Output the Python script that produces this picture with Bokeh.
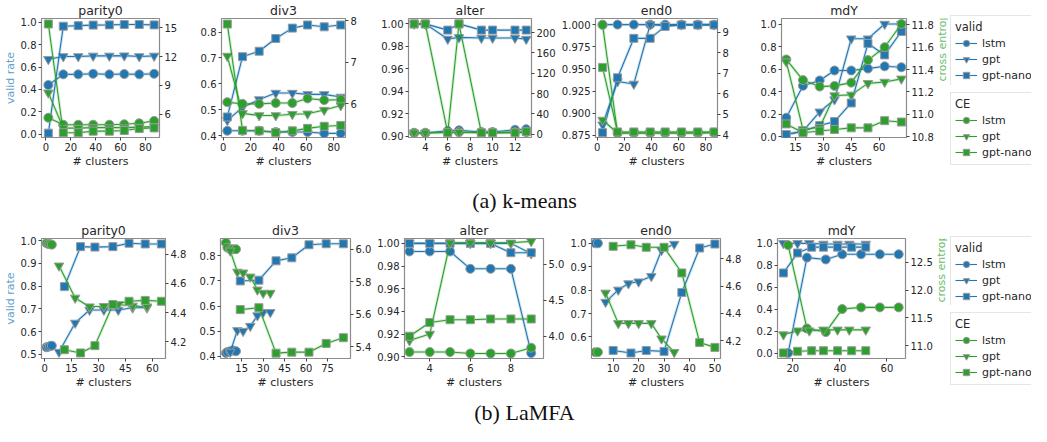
import math
from bokeh.plotting import figure
from bokeh.models import (Range1d, LinearAxis, FixedTicker, PrintfTickFormatter,
                          Legend, LegendItem, Label)
from bokeh.layouts import row, column
from bokeh.embed import file_html
from bokeh.resources import INLINE

# ---------------- data ----------------
MODELS = ["lstm", "gpt", "gpt-nano"]
TITLES = ["parity0", "div3", "alter", "end0", "mdY"]
CAPTIONS = ["(a) k-means", "(b) LaMFA"]
LEGEND_TITLES = ["valid", "CE"]
AXIS_LABELS = ["# clusters", "valid rate", "cross entropy"]

# (a) k-means
km_parity0_x = [2, 14, 26, 38, 51, 63, 75, 87]
km_parity0_valid_lstm = [0.44, 0.535, 0.535, 0.54, 0.535, 0.538, 0.535, 0.54]
km_parity0_valid_gpt = [0.67, 0.695, 0.695, 0.70, 0.70, 0.702, 0.695, 0.70]
km_parity0_valid_nano = [0.01, 0.965, 0.97, 0.975, 0.977, 0.98, 0.98, 0.977]
km_parity0_ce_lstm = [5.63, 4.9, 4.9, 4.9, 4.9, 4.95, 5.05, 5.3]
km_parity0_ce_gpt = [8.23, 4.55, 4.55, 4.6, 4.6, 4.6, 4.65, 4.7]
km_parity0_ce_nano = [15.4, 4.07, 4.07, 4.23, 4.23, 4.3, 4.5, 4.57]

km_div3_x = [3, 14, 26, 38, 50, 61, 73, 85]
km_div3_valid_lstm = [0.42, 0.42, 0.42, 0.415, 0.415, 0.415, 0.41, 0.41]
km_div3_valid_gpt = [0.46, 0.51, 0.54, 0.565, 0.565, 0.56, 0.56, 0.55]
km_div3_valid_nano = [0.473, 0.705, 0.726, 0.775, 0.815, 0.827, 0.82, 0.827]
km_div3_ce_lstm = [6.04, 6.0, 6.0, 6.02, 6.02, 6.13, 6.09, 6.1]
km_div3_ce_gpt = [7.15, 5.77, 5.72, 5.72, 5.75, 5.76, 5.85, 5.96]
km_div3_ce_nano = [7.92, 5.36, 5.35, 5.31, 5.35, 5.41, 5.46, 5.48]

km_alter_x = [3, 4, 6, 7, 9, 10, 12, 13]
km_alter_valid_lstm = [0.903, 0.903, 0.905, 0.9055, 0.904, 0.904, 0.906, 0.9065]
km_alter_valid_gpt = [1.0, 1.0, 0.9866, 0.988, 0.9875, 0.9875, 0.9875, 0.9865]
km_alter_valid_nano = [1.0, 1.0, 0.9945, 1.0, 0.9945, 0.9945, 0.9945, 0.9945]
km_alter_ce_lstm = [3.1, 3.1, 3.5, 4.0, 3.5, 3.5, 4.0, 4.5]
km_alter_ce_gpt = [3.0, 3.0, 3.5, 4.0, 3.2, 3.2, 3.5, 4.0]
km_alter_ce_nano = [217, 217, 3, 217, 3, 3, 3, 5]

km_end0_x = [4, 15, 27, 39, 50, 62, 74, 86]
km_end0_valid_lstm = [1.0, 1.0, 1.0, 1.0, 1.0, 1.0, 1.0, 1.0]
km_end0_valid_gpt = [0.887, 0.9357, 0.933, 1.0, 0.999, 1.0, 1.0, 1.0]
km_end0_valid_nano = [0.878, 0.940, 0.9845, 0.9845, 0.998, 0.9996, 0.9996, 0.9996]
km_end0_ce_lstm = [9.36, 4.1, 4.1, 4.1, 4.1, 4.1, 4.1, 4.12]
km_end0_ce_gpt = [4.73, 4.1, 4.1, 4.1, 4.1, 4.1, 4.1, 4.12]
km_end0_ce_nano = [7.29, 4.15, 4.15, 4.15, 4.15, 4.15, 4.15, 4.15]

km_mdY_x = [10, 19, 28, 36, 45, 54, 63, 72]
km_mdY_valid_lstm = [0.17, 0.452, 0.50, 0.588, 0.588, 0.605, 0.625, 0.617]
km_mdY_valid_gpt = [0.02, 0.05, 0.222, 0.33, 0.87, 0.87, 1.0, 1.0]
km_mdY_valid_nano = [0.02, 0.05, 0.10, 0.135, 0.30, 0.827, 0.726, 0.934]
km_mdY_ce_lstm = [11.49, 11.306, 11.248, 11.254, 11.283, 11.484, 11.599, 11.806]
km_mdY_ce_gpt = [11.47, 10.866, 10.886, 11.168, 11.174, 11.277, 11.289, 11.317]
km_mdY_ce_nano = [10.915, 10.837, 10.852, 10.866, 10.88, 10.88, 10.944, 10.932]

# (b) LaMFA
lm_parity0_x_lstm = [1, 2, 3, 4]
lm_parity0_x_gpt = [8, 17, 25, 33, 41, 49, 57]
lm_parity0_x_nano = [11, 20, 28, 38, 47, 56, 65]
lm_parity0_valid_lstm = [0.531, 0.533, 0.536, 0.538]
lm_parity0_valid_gpt = [0.51, 0.638, 0.695, 0.695, 0.695, 0.705, 0.705]
lm_parity0_valid_nano = [0.798, 0.974, 0.972, 0.974, 0.989, 0.986, 0.986]
lm_parity0_ce_lstm = [4.875, 4.87, 4.868, 4.865]
lm_parity0_ce_gpt = [4.72, 4.50, 4.44, 4.443, 4.455, 4.445, 4.44]
lm_parity0_ce_nano = [4.145, 4.123, 4.173, 4.455, 4.477, 4.483, 4.477]

lm_div3_x_lstm = [4, 5, 7, 9, 11]
lm_div3_x_gpt = [7, 12, 16, 21, 26, 30, 35]
lm_div3_x_nano = [14, 27, 39, 50, 62, 74, 86]
lm_div3_valid_lstm = [0.413, 0.417, 0.42, 0.423, 0.42]
lm_div3_valid_gpt = [0.417, 0.503, 0.50, 0.52, 0.562, 0.575, 0.575]
lm_div3_valid_nano = [0.70, 0.703, 0.78, 0.792, 0.844, 0.848, 0.848]
lm_div3_ce_lstm = [6.04, 6.01, 6.0, 6.0, 6.0]
lm_div3_ce_gpt = [5.99, 5.86, 5.855, 5.83, 5.75, 5.73, 5.73]
lm_div3_ce_nano = [5.628, 5.64, 5.36, 5.366, 5.366, 5.42, 5.455]

lm_alter_x = [3, 4, 5, 6, 7, 8, 9]
lm_alter_valid_lstm = [0.9929, 0.9929, 0.9929, 0.9776, 0.9776, 0.9776, 0.9034]
lm_alter_valid_gpt = [1.0, 1.0, 1.0, 1.0, 1.0, 1.0, 0.991]
lm_alter_valid_nano = [1.0, 1.0, 1.0, 1.0, 1.0, 0.9918, 0.9918]
lm_alter_ce_lstm = [3.78, 3.78, 3.78, 3.76, 3.76, 3.76, 3.84]
lm_alter_ce_gpt = [3.94, 4.03, 5.3, 5.3, 5.3, 5.3, 5.32]
lm_alter_ce_nano = [4.0, 4.19, 4.23, 4.23, 4.24, 4.24, 4.24]

lm_end0_x_lstm = [3, 4]
lm_end0_x_gpt = [7, 12, 16, 20, 25, 29, 34]
lm_end0_x_nano = [10, 17, 23, 30, 37, 44, 50]
lm_end0_valid_lstm = [1.0, 1.0]
lm_end0_valid_gpt = [0.749, 0.801, 0.828, 0.836, 0.859, 0.97, 0.997]
lm_end0_valid_nano = [0.542, 0.531, 0.542, 0.538, 0.79, 0.98, 0.997]
lm_end0_ce_lstm = [4.118, 4.118]
lm_end0_ce_gpt = [4.55, 4.328, 4.328, 4.328, 4.328, 4.216, 4.118]
lm_end0_ce_nano = [4.889, 4.9, 4.882, 4.882, 4.695, 4.188, 4.153]

lm_mdY_x_lstm = [18, 26, 34, 41, 49, 57, 65]
lm_mdY_x_gpt = [16, 22, 27, 33, 39, 44, 51]
lm_mdY_x_nano = [16, 22, 28, 33, 39, 45, 51]
lm_mdY_valid_lstm = [0.0, 0.87, 0.853, 0.9, 0.9, 0.9, 0.9]
lm_mdY_valid_gpt = [1.0, 1.0, 1.0, 0.994, 0.994, 0.994, 0.994]
lm_mdY_valid_nano = [0.73, 0.912, 0.965, 0.965, 0.965, 0.965, 0.965]
lm_mdY_ce_lstm = [12.81, 11.31, 11.246, 11.66, 11.69, 11.69, 11.69]
lm_mdY_ce_gpt = [11.2, 11.27, 11.27, 11.286, 11.286, 11.286, 11.286]
lm_mdY_ce_nano = [10.87, 10.9, 10.91, 10.91, 10.91, 10.91, 10.91]

# axis limits and ticks
km_xlims = [(-3.5, 91.3), (-1.2, 88.4), (2.5, 13.47), (-1.2, 88.5), (7.44, 74.76)]
km_ylims = [(-0.029, 1.034), (0.394, 0.852), (0.8991, 1.0048), (0.8725, 1.0069), (-0.006, 1.049)]
km_y2lims = [(3.57, 15.97), (5.19, 8.054), (-6.3, 227.7), (3.88, 9.67), (10.794, 11.855)]
km_xticks = [[0, 20, 40, 60, 80], [0, 20, 40, 60, 80], [4, 6, 8, 10, 12], [0, 20, 40, 60, 80], [15, 30, 45, 60]]
km_yticks = [[0.0, 0.2, 0.4, 0.6, 0.8, 1.0], [0.4, 0.5, 0.6, 0.7, 0.8],
             [0.90, 0.92, 0.94, 0.96, 0.98, 1.00], [0.875, 0.9, 0.925, 0.95, 0.975, 1.0],
             [0.0, 0.2, 0.4, 0.6, 0.8, 1.0]]
km_y2ticks = [[6, 9, 12, 15], [6, 7, 8], [0, 40, 80, 120, 160, 200], [4, 5, 6, 7, 8, 9],
              [10.8, 11.0, 11.2, 11.4, 11.6, 11.8]]
km_yfmt = ["%.1f", "%.1f", "%.2f", "%.3f", "%.1f"]
km_y2fmt = ["%d", "%d", "%d", "%d", "%.1f"]

lm_xlims = [(-1.75, 67.3), (0.2, 91.0), (2.754, 9.607), (1.48, 52.2), (13.47, 67.9)]
lm_ylims = [(0.4815, 1.0099), (0.391, 0.869), (0.8986, 1.0043), (0.5076, 1.0207), (-0.05, 1.044)]
lm_y2lims = [(4.085, 4.907), (5.327, 6.066), (3.69, 5.36), (4.072, 4.946), (10.77, 12.93)]
lm_xticks = [[0, 15, 30, 45, 60], [0, 15, 30, 45, 60, 75], [4, 6, 8], [10, 20, 30, 40, 50], [20, 40, 60]]
lm_yticks = [[0.5, 0.6, 0.7, 0.8, 0.9, 1.0], [0.4, 0.5, 0.6, 0.7, 0.8],
             [0.90, 0.92, 0.94, 0.96, 0.98, 1.00], [0.6, 0.7, 0.8, 0.9, 1.0],
             [0.0, 0.2, 0.4, 0.6, 0.8, 1.0]]
lm_y2ticks = [[4.2, 4.4, 4.6, 4.8], [5.4, 5.6, 5.8, 6.0], [4.0, 4.5, 5.0], [4.2, 4.4, 4.6, 4.8],
              [11.0, 11.5, 12.0, 12.5]]
lm_yfmt = ["%.1f", "%.1f", "%.2f", "%.1f", "%.1f"]
lm_y2fmt = ["%.1f", "%.1f", "%.1f", "%.1f", "%.1f"]

# ---------------- assemble ----------------
km_series = [
    [(km_parity0_x, km_parity0_valid_lstm, km_parity0_ce_lstm),
     (km_parity0_x, km_parity0_valid_gpt, km_parity0_ce_gpt),
     (km_parity0_x, km_parity0_valid_nano, km_parity0_ce_nano)],
    [(km_div3_x, km_div3_valid_lstm, km_div3_ce_lstm),
     (km_div3_x, km_div3_valid_gpt, km_div3_ce_gpt),
     (km_div3_x, km_div3_valid_nano, km_div3_ce_nano)],
    [(km_alter_x, km_alter_valid_lstm, km_alter_ce_lstm),
     (km_alter_x, km_alter_valid_gpt, km_alter_ce_gpt),
     (km_alter_x, km_alter_valid_nano, km_alter_ce_nano)],
    [(km_end0_x, km_end0_valid_lstm, km_end0_ce_lstm),
     (km_end0_x, km_end0_valid_gpt, km_end0_ce_gpt),
     (km_end0_x, km_end0_valid_nano, km_end0_ce_nano)],
    [(km_mdY_x, km_mdY_valid_lstm, km_mdY_ce_lstm),
     (km_mdY_x, km_mdY_valid_gpt, km_mdY_ce_gpt),
     (km_mdY_x, km_mdY_valid_nano, km_mdY_ce_nano)],
]
lm_series = [
    [(lm_parity0_x_lstm, lm_parity0_valid_lstm, lm_parity0_ce_lstm),
     (lm_parity0_x_gpt, lm_parity0_valid_gpt, lm_parity0_ce_gpt),
     (lm_parity0_x_nano, lm_parity0_valid_nano, lm_parity0_ce_nano)],
    [(lm_div3_x_lstm, lm_div3_valid_lstm, lm_div3_ce_lstm),
     (lm_div3_x_gpt, lm_div3_valid_gpt, lm_div3_ce_gpt),
     (lm_div3_x_nano, lm_div3_valid_nano, lm_div3_ce_nano)],
    [(lm_alter_x, lm_alter_valid_lstm, lm_alter_ce_lstm),
     (lm_alter_x, lm_alter_valid_gpt, lm_alter_ce_gpt),
     (lm_alter_x, lm_alter_valid_nano, lm_alter_ce_nano)],
    [(lm_end0_x_lstm, lm_end0_valid_lstm, lm_end0_ce_lstm),
     (lm_end0_x_gpt, lm_end0_valid_gpt, lm_end0_ce_gpt),
     (lm_end0_x_nano, lm_end0_valid_nano, lm_end0_ce_nano)],
    [(lm_mdY_x_lstm, lm_mdY_valid_lstm, lm_mdY_ce_lstm),
     (lm_mdY_x_gpt, lm_mdY_valid_gpt, lm_mdY_ce_gpt),
     (lm_mdY_x_nano, lm_mdY_valid_nano, lm_mdY_ce_nano)],
]

# ---------------- style ----------------
BLUE = "#1f77b4"
GREEN = "#2ca02c"
BLUE_LABEL = "#62a0cb"
GREEN_LABEL = "#6bbd6b"
MARKERS = ["circle", "inverted_triangle", "square"]
MSIZES = [9, 9.5, 8]
EDGE = "#9a9a9a"
FONT = "DejaVu Sans"
TXT = "#262626"
FRAME_H = 124


def style_axis(ax):
    ax.axis_line_color = None
    ax.major_tick_in = 0
    ax.major_tick_out = 3
    ax.major_tick_line_color = "#444444"
    ax.minor_tick_line_color = None
    ax.major_label_text_font = FONT
    ax.major_label_text_font_size = "10px"
    ax.major_label_text_color = TXT
    ax.major_label_standoff = 2
    ax.axis_label_text_font = FONT
    ax.axis_label_text_font_size = "11px"
    ax.axis_label_text_font_style = "normal"
    ax.axis_label_text_color = TXT
    ax.axis_label_standoff = 1


def blank(w, h, **kw):
    f = figure(width=w, height=h, x_range=Range1d(0, 1), y_range=Range1d(0, 1),
               toolbar_location=None, output_backend="svg",
               x_axis_type=None, y_axis_type=None, **kw)
    f.outline_line_color = None
    f.xgrid.visible = False
    f.ygrid.visible = False
    return f


def draw(p, x, y, color, k, rng=None):
    kw = {} if rng is None else {"y_range_name": rng}
    p.line(x, y, line_color=color, line_width=3, line_alpha=0.2, **kw)
    p.line(x, y, line_color=color, line_width=1.1, **kw)
    p.scatter(x, y, marker=MARKERS[k], size=MSIZES[k], fill_color=color,
              line_color=EDGE, line_width=1, **kw)


def panel(i, series, xlim, ylim, y2lim, xt, yt, y2t, yf, y2f, geom, mt, h):
    ml, fw, mr = geom
    p = figure(width=ml + fw + mr, height=h, x_range=Range1d(*xlim), y_range=Range1d(*ylim),
               min_border_left=ml, min_border_right=mr, min_border_top=mt,
               min_border_bottom=h - mt - FRAME_H, toolbar_location=None,
               output_backend="svg", title=TITLES[i])
    p.extra_y_ranges = {"ce": Range1d(*y2lim)}
    ax2 = LinearAxis(y_range_name="ce")
    p.add_layout(ax2, "right")
    p.xgrid.visible = False
    p.ygrid.visible = False
    p.outline_line_color = "#8c8c8c"
    p.outline_line_width = 1.2
    p.title.align = "center"
    p.title.text_font = FONT
    p.title.text_font_size = "12.5px"
    p.title.text_font_style = "normal"
    p.title.text_color = TXT
    p.title.standoff = 1
    for ax in [p.xaxis[0], p.yaxis[0], ax2]:
        style_axis(ax)
    p.xaxis[0].ticker = FixedTicker(ticks=xt)
    p.yaxis[0].ticker = FixedTicker(ticks=yt)
    ax2.ticker = FixedTicker(ticks=y2t)
    p.yaxis[0].formatter = PrintfTickFormatter(format=yf)
    ax2.formatter = PrintfTickFormatter(format=y2f)
    p.xaxis[0].axis_label = AXIS_LABELS[0]
    if i == 0:
        p.yaxis[0].axis_label = AXIS_LABELS[1]
        p.yaxis[0].axis_label_text_color = BLUE_LABEL
    for k, (x, v, c) in enumerate(series):
        draw(p, x, v, BLUE, k)
    for k, (x, v, c) in enumerate(series):
        draw(p, x, c, GREEN, k, "ce")
    return p


def ce_label_strip(w, h, cx, y_start):
    # thin canvas carrying the right-hand axis title, reading bottom-to-top
    f = blank(w, h, min_border=0)
    f.add_layout(Label(x=cx, y=y_start, x_units="screen", y_units="screen", text=AXIS_LABELS[2],
                       angle=math.pi / 2, text_align="left", text_baseline="middle",
                       text_font=FONT, text_font_size="11px", text_color=GREEN_LABEL))
    return f


def legend_fig(title, color, series, use_ce, w, h, mt):
    # legend-only canvas: the series are drawn outside its visible range
    f = figure(width=w, height=h, x_range=Range1d(-3, -2), y_range=Range1d(-3, -2),
               min_border_left=0, min_border_right=0, min_border_top=mt, min_border_bottom=0,
               toolbar_location=None, output_backend="svg", x_axis_type=None, y_axis_type=None)
    f.outline_line_color = None
    f.xgrid.visible = False
    f.ygrid.visible = False
    items = []
    for k, m in enumerate(MODELS):
        x, v, c = series[k]
        y = c if use_ce else v
        l = f.line(x, y, line_color=color, line_width=1.1)
        s = f.scatter(x, y, marker=MARKERS[k], fill_color=color, line_color=EDGE, line_width=1)
        items.append(LegendItem(label=m, renderers=[l, s]))
    lg = Legend(items=items, title=title, location="top_left", margin=0, padding=4,
                spacing=0, glyph_width=22, glyph_height=16, label_height=16,
                label_standoff=5, title_standoff=1,
                label_text_font=FONT, label_text_font_size="11px", label_text_color=TXT,
                title_text_font=FONT, title_text_font_size="11.5px",
                title_text_font_style="normal", title_text_color=TXT,
                border_line_color="#cccccc", border_line_width=1,
                background_fill_alpha=0.85)
    f.add_layout(lg)
    return f


def caption_fig(text, w, h, ybase):
    f = blank(w, h, min_border=0)
    f.add_layout(Label(x=524, y=ybase, x_units="screen", y_units="screen", text=text,
                       text_align="center", text_baseline="middle",
                       text_font="Liberation Serif", text_font_size="22px",
                       text_color="#111111"))
    return f


TOP_GEOM = [(33, 126, 34), (28, 124, 29), (34, 124, 26), (36, 123, 38), (26, 125, 30)]
BOT_GEOM = [(34, 131, 31), (24, 132, 22), (30, 140, 23), (22, 131, 33), (22, 130, 30)]

top = [panel(i, km_series[i], km_xlims[i], km_ylims[i], km_y2lims[i], km_xticks[i],
             km_yticks[i], km_y2ticks[i], km_yfmt[i], km_y2fmt[i], TOP_GEOM[i], 15, 170)
       for i in range(5)]
bot = [panel(i, lm_series[i], lm_xlims[i], lm_ylims[i], lm_y2lims[i], lm_xticks[i],
             lm_yticks[i], lm_y2ticks[i], lm_yfmt[i], lm_y2fmt[i], BOT_GEOM[i], 16, 171)
       for i in range(5)]

strip_top = ce_label_strip(14, 170, 6, 56)
strip_bot = ce_label_strip(15, 171, 6, 56)

leg_top = column(legend_fig(LEGEND_TITLES[0], BLUE, km_series[4], False, 81, 85, 15),
                 legend_fig(LEGEND_TITLES[1], GREEN, km_series[4], True, 81, 85, 7))
leg_bot = column(legend_fig(LEGEND_TITLES[0], BLUE, lm_series[4], False, 81, 85, 16),
                 legend_fig(LEGEND_TITLES[1], GREEN, lm_series[4], True, 81, 86, 7))

cap_a = caption_fig(CAPTIONS[0], 1031, 50, 20)
cap_b = caption_fig(CAPTIONS[1], 1031, 35, 14)

layout = column(row(*top, strip_top, leg_top), cap_a,
                row(*bot, strip_bot, leg_bot), cap_b)

open("out.html", "w").write(file_html(layout, INLINE))
